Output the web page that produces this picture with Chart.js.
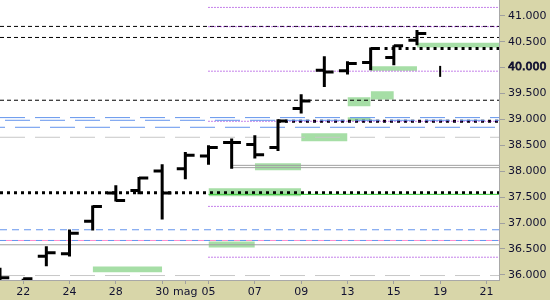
<!DOCTYPE html>
<html><head><meta charset="utf-8">
<script src="https://cdn.jsdelivr.net/npm/chart.js@4.4.1/dist/chart.umd.min.js"></script>
<style>html,body{margin:0;padding:0;background:#d8d6a9;overflow:hidden}</style>
</head><body>
<canvas id="c" width="550" height="300"></canvas>
<script>
// ---- data ----
const dayLabels = ['17','22','23','24','25','28','29','30','mag','05','06','07','08','09','12','13','14','15','16','19','20','21'];
const tickIndex = [1,3,5,7,8,9,11,13,15,17,19,21];
const yTicks = [36000,36500,37000,37500,38000,38500,39000,39500,40000,40500,41000];

const opens  = [35880,35850,36360,36406,37036,37578,37630,38003,38049,38293,38552,38514,38456,39210,39950,39937,40099,40196,40530];
const highs  = [36135,35925,36553,36876,37340,37727,37887,38133,38370,38500,38630,38693,39003,39486,40221,40124,40389,40433,40724];
const lows   = [35850,35800,36166,36354,36857,37417,37553,37069,37843,38127,38049,38243,38390,39113,39627,39867,39950,40047,40433];
const closes = [35942,35925,36425,36804,37321,37437,37868,37578,38307,38456,38552,38320,38970,39357,39917,40080,40370,40420,40660];
const lastBarIndex = 19;
const lastBarHigh = 40033;
const lastBarLow = 39821;

// horizontal levels
const blackDashedLevels = [40795, 40582, 39370];
const purpleDottedLevels = [41162, 40790, 39931, 38964, 37321, 36340];
const purpleStart = 9;
const blackDottedLevels = [37585, 40370, 38964];
const blackDottedStarts = [0, 16.6, 12];
const blueLongLevels = [39035, 38983, 38848];
const greyLongLevels = [38655, 35986];
const greySolidLevels = [36580, 38113, 38069];
const greySolidStarts = [0, 10, 10];
const greenThinLevel = 37553;
const greenThinStart = 9;
const blueDashedLevel = 36870;
const bluePinkLevel = 36663;

// green zones
const zoneFrom = [4, 11, 9, 9, 13, 15, 15, 16, 16, 18];
const zoneTo   = [7, 13, 13, 11, 15, 16, 16, 17, 18, 22];
const zoneLow  = [36048, 38017, 37517, 36528, 38577, 39254, 38968, 39384, 39937, 40389];
const zoneHigh = [36160, 38152, 37669, 36644, 38732, 39428, 39041, 39544, 40027, 40478];

const xMin = 0, xMax = 21.54, yMin = 35900, yMax = 41305;

// ---- build datasets ----
const datasets = [];
const base = {pointRadius:0, pointHoverRadius:0, fill:false, clip:0, tension:0, spanGaps:false, borderCapStyle:'butt'};

const hl = [], op = [], cl = [];
opens.forEach((o,i)=>{
  hl.push({x:i,y:lows[i]},{x:i,y:highs[i]},{x:i,y:null});
  op.push({x:i-0.37,y:o},{x:i,y:o},{x:i,y:null});
  cl.push({x:i,y:closes[i]},{x:i+0.4,y:closes[i]},{x:i+0.4,y:null});
});
datasets.push({...base, data:hl, borderColor:'#000', borderWidth:3, order:0});
datasets.push({...base, data:op, borderColor:'#000', borderWidth:3, order:0});
datasets.push({...base, data:cl, borderColor:'#000', borderWidth:3, order:0});
datasets.push({...base, data:[{x:lastBarIndex,y:lastBarLow},{x:lastBarIndex,y:lastBarHigh}], borderColor:'#000', borderWidth:2, order:0});

function hline(v, from, to, color, width, dash, offset, order){
  datasets.push({...base, data:[{x:from,y:v},{x:to,y:v}], borderColor:color, borderWidth:width,
    borderDash:dash||[], borderDashOffset:offset||0, order:order===undefined?1:order});
}
greyLongLevels.forEach(v=>hline(v, xMin, 22, '#c8c8c8', 1, [25,10], 0, 2));
blueLongLevels.forEach((v,k)=>hline(v, xMin, 22, '#6495ed', 1, [25,10], [0,30,20][k], 1));
greySolidLevels.forEach((v,k)=>hline(v, greySolidStarts[k], 22, '#a0a0a0', 1, [], 0, 1));
hline(blueDashedLevel, xMin, 22, '#6495ed', 1, [7,5], 0, 1);
hline(bluePinkLevel, xMin, 22, '#6495ed', 1, [6,6], 0, 1);
hline(bluePinkLevel, xMin, 22, '#ff8ccc', 1, [6,6], 6, 1);
hline(greenThinLevel, greenThinStart, 22, '#3cc83c', 1, [], 0, 1);
purpleDottedLevels.forEach(v=>hline(v, purpleStart, 22, '#8a00d4', 1, [1,2], 0, 1));
blackDashedLevels.forEach(v=>hline(v, xMin, 22, '#000', 1, [4,3], 0, 1));
blackDottedLevels.forEach((v,k)=>hline(v, blackDottedStarts[k], 22, '#000', 3, [3,4], 0, 1));

zoneFrom.forEach((f,k)=>{
  datasets.push({...base, data:[{x:f,y:zoneHigh[k]},{x:zoneTo[k],y:zoneHigh[k]}],
    borderColor:'rgba(0,0,0,0)', borderWidth:0, fill:{value:zoneLow[k]},
    backgroundColor:'#a6dea6', order:3});
});

const bgPlugin = {
  id:'bg',
  beforeDraw(chart){
    const {ctx, chartArea:a} = chart;
    ctx.save();
    ctx.fillStyle = '#d8d6a9';
    ctx.fillRect(0,0,chart.width,chart.height);
    ctx.fillStyle = '#ffffff';
    ctx.fillRect(a.left,a.top,a.right-a.left,a.bottom-a.top);
    ctx.restore();
  }
};

const txt = '#101030';
new Chart(document.getElementById('c'), {
  type:'line',
  data:{datasets},
  options:{
    responsive:false, animation:false, devicePixelRatio:1,
    layout:{padding:0},
    plugins:{legend:{display:false}, tooltip:{enabled:false}},
    scales:{
      x:{type:'linear', position:'bottom', min:xMin, max:xMax,
        afterBuildTicks:s=>{ s.ticks = tickIndex.map(v=>({value:v})); },
        afterFit:s=>{ s.height = 20; s.paddingLeft = 0; s.paddingRight = 0; },
        ticks:{autoSkip:false, maxRotation:0, padding:2, color:txt,
          font:{family:'DejaVu Sans', size:11}, callback:v=>dayLabels[v]},
        grid:{drawOnChartArea:false, drawTicks:true, tickLength:4, color:'#a0a0a0'},
        border:{display:true, color:'#a8a8a8'}},
      y:{type:'linear', position:'right', min:yMin, max:yMax,
        afterBuildTicks:s=>{ s.ticks = yTicks.map(v=>({value:v})); },
        afterFit:s=>{ s.width = 51; s.paddingTop = 0; s.paddingBottom = 0; },
        ticks:{padding:3, color:txt,
          font:{family:'DejaVu Sans', size:11},
          textStrokeColor:txt,
          textStrokeWidth:c=>(c.tick && c.tick.value===40000)?0.8:0,
          callback:v=>(v/1000).toFixed(3)},
        grid:{drawOnChartArea:false, drawTicks:true, tickLength:6, color:'#a0a0a0'},
        border:{display:true, color:'#a8a8a8'}}
    }
  },
  plugins:[bgPlugin]
});
</script>
</body></html>
